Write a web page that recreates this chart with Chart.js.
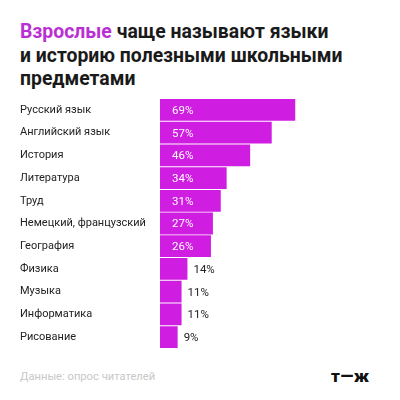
<!DOCTYPE html>
<html>
<head>
<meta charset="utf-8">
<script src="https://cdn.jsdelivr.net/npm/chart.js@4"></script>
<style>
  html, body { margin: 0; padding: 0; background: #fff; }
  body { width: 400px; height: 400px; position: relative; overflow: hidden; font-family: Roboto, "Noto Sans", sans-serif; }
  #title { position: absolute; left: 20px; top: 20px; font-size: 19.4px; font-weight: 700; line-height: 23.5px; color: #1a1a1a; }
  #title span { color: #b92fd4; }
  #chartBox { position: absolute; left: 20px; top: 92px; width: 380px; height: 263px; }
  #source { position: absolute; left: 20px; top: 370px; font-size: 11.2px; color: #c8c8c8; }
  #logo { position: absolute; left: 331px; top: 366px; font-size: 17px; font-weight: 900; color: #111; letter-spacing: 0.5px; }
</style>
</head>
<body>
<div id="title"><span>Взрослые</span> чаще называют языки<br>и историю полезными школьными<br>предметами</div>
<div id="chartBox"><canvas id="subjectsChart"></canvas></div>
<div id="source">Данные: опрос читателей</div>
<div id="logo">т—ж</div>
<script>
const subjects = ['Русский язык', 'Английский язык', 'История', 'Литература', 'Труд',
    'Немецкий, французский', 'География', 'Физика', 'Музыка', 'Информатика', 'Рисование'];
const shares = [69, 57, 46, 34, 31, 27, 26, 14, 11, 11, 9];

// values drawn on the bars: white inside long bars, dark next to short ones
const valueLabels = {
    id: 'valueLabels',
    afterDatasetsDraw(chart) {
        const ctx = chart.ctx;
        const meta = chart.getDatasetMeta(0);
        ctx.save();
        ctx.font = '11.5px Roboto, sans-serif';
        ctx.textBaseline = 'middle';
        ctx.textAlign = 'left';
        meta.data.forEach((bar, i) => {
            const v = shares[i];
            if (v >= 20) {
                ctx.fillStyle = '#ffffff';
                ctx.fillText(v + '%', bar.base + 12, bar.y + 1);
            } else {
                ctx.fillStyle = '#222222';
                ctx.fillText(v + '%', bar.x + 6, bar.y + 1);
            }
        });
        ctx.restore();
    }
};

new Chart(document.getElementById('subjectsChart'), {
    type: 'bar',
    data: {
        labels: subjects,
        datasets: [{
            data: shares,
            backgroundColor: '#d01de2',
            barPercentage: 0.96,
            categoryPercentage: 1
        }]
    },
    options: {
        indexAxis: 'y',
        responsive: true,
        maintainAspectRatio: false,
        animation: false,
        layout: { padding: { top: 0, bottom: 0, left: 0, right: 44 } },
        plugins: {
            legend: { display: false },
            tooltip: { enabled: false }
        },
        scales: {
            x: {
                display: false,
                min: 0,
                max: 100
            },
            y: {
                afterFit: (axis) => { axis.width = 140; },
                border: { display: false },
                grid: { display: false, drawTicks: false },
                ticks: {
                    crossAlign: 'far',
                    padding: 0,
                    color: '#222222',
                    font: { family: 'Roboto, sans-serif', size: 11 }
                }
            }
        }
    },
    plugins: [valueLabels]
});
</script>
</body>
</html>
